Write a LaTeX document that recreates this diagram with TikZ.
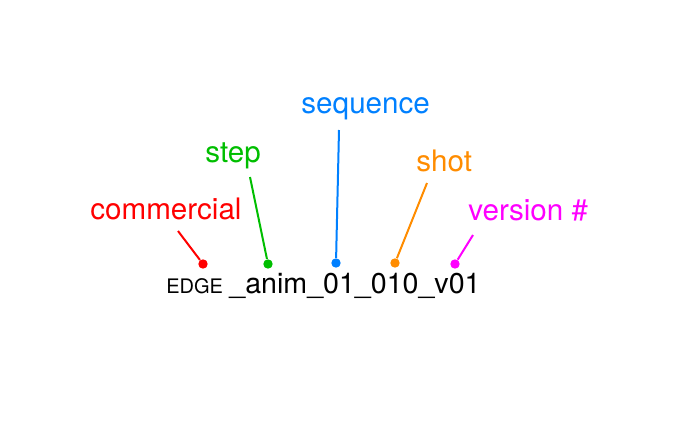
\documentclass[tikz,border=0pt]{standalone}
\usepackage{fontspec}
\setmainfont{TeX Gyre Heros}
\definecolor{cred}{RGB}{255,0,0}
\definecolor{cgreen}{RGB}{0,190,0}
\definecolor{cblue}{RGB}{0,128,255}
\definecolor{corange}{RGB}{255,140,0}
\definecolor{cmagenta}{RGB}{255,0,255}
\tikzset{leadline/.style={line width=1pt}}
\newcommand{\pin}[3]{\node[circle, fill=#3, inner sep=0pt, minimum size=4.7pt] (#1) at (#2) {}}
\newcommand{\lead}[3]{\draw[#3, leadline] (#1) -- (#2)}
\newcommand{\word}[4]{\node[anchor=base west, inner sep=0pt, text=#3,
	font=\fontsize{14.8}{16}\selectfont] (#1) at (#2) {#4}}

\begin{document}
\begin{tikzpicture}[x=0.5pt, y=-0.5pt]
	\useasboundingbox (0,0) rectangle (697,429);
%The name
	\node[anchor=base west, inner sep=0pt, font=\fontsize{10}{11}\selectfont] (edge) at (166,293) {EDGE};
	\node[anchor=base west, inner sep=0pt, font=\fontsize{14.3}{16}\selectfont] (name) at (229,293) {\_anim\_01\_010\_v01};
%Labels
	\word{commercial}{90,219}{cred}{commercial};
	\word{step}{205,162}{cgreen}{step};
	\word{sequence}{301,113}{cblue}{sequence};
	\word{shot}{416,171}{corange}{shot};
	\word{version}{468,220}{cmagenta}{version \#};
%Dots
	\pin{dotcom}{203,264}{cred};
	\pin{dotstep}{268,264}{cgreen};
	\pin{dotseq}{336,263}{cblue};
	\pin{dotshot}{395,263}{corange};
	\pin{dotver}{455,264}{cmagenta};
%Leader lines
	\coordinate (topcom) at (178,231);
	\coordinate (topstep) at (250,177);
	\coordinate (topseq) at (339,130);
	\coordinate (topshot) at (427,183);
	\coordinate (topver) at (473,235);
	\lead{topcom}{dotcom}{cred};
	\lead{topstep}{dotstep}{cgreen};
	\lead{topseq}{dotseq}{cblue};
	\lead{topshot}{dotshot}{corange};
	\lead{topver}{dotver}{cmagenta};
\end{tikzpicture}
\end{document}
